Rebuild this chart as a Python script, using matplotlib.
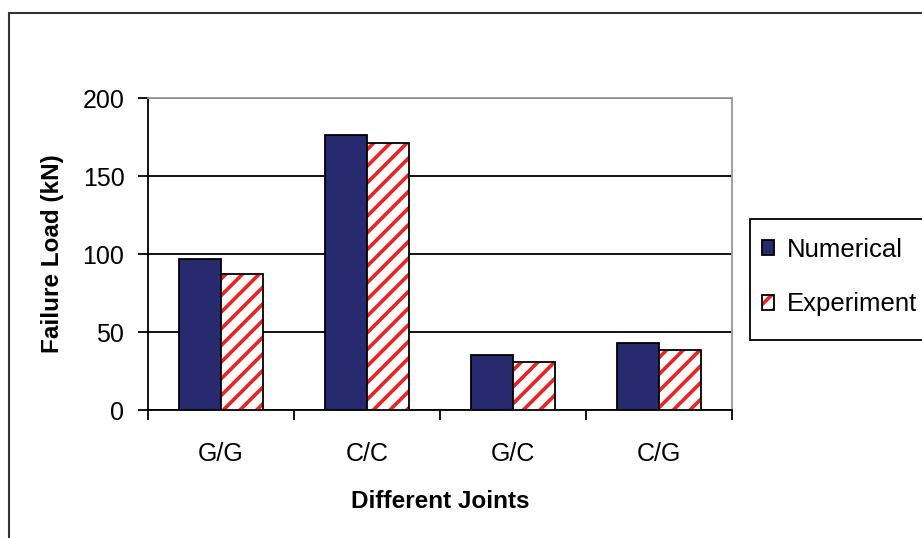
import matplotlib
matplotlib.use("Agg")
import matplotlib.pyplot as plt
import numpy as np
from matplotlib.patches import Patch, Rectangle
from matplotlib.legend_handler import HandlerTuple

plt.rcParams['font.family'] = ['Liberation Sans', 'DejaVu Sans']
plt.rcParams['hatch.linewidth'] = 2.6

joints = ["G/G", "C/C", "G/C", "C/G"]
numerical = [97, 176, 35, 43]
experiment = [87, 171, 31, 38.5]
y_ticks = [0, 50, 100, 150, 200]

navy = "#282a70"
red = "#ee2222"
W, H = 922, 538

fig = plt.figure(figsize=(W / 100, H / 100), dpi=100)
ax = fig.add_axes([148 / W, 1 - 410 / H, (732 - 148) / W, (410 - 98) / H])

x = np.arange(len(joints))
bw = 0.29

ax.bar(x - bw / 2, numerical, width=bw, color=navy, edgecolor="black",
       linewidth=1.3, zorder=3)
# hatched fill in red, then a black outline on top
ax.bar(x + bw / 2, experiment, width=bw, color="white", edgecolor=red,
       hatch="//", linewidth=0, zorder=3)
ax.bar(x + bw / 2, experiment, width=bw, fill=False, edgecolor="black",
       linewidth=1.3, zorder=4)

ax.set_xlim(-0.5, len(joints) - 0.5)
ax.set_ylim(0, 200)
ax.set_yticks(y_ticks)
ax.yaxis.grid(True, color="black", linewidth=1.3, zorder=1)
ax.set_axisbelow(True)

ax.set_xticks(np.arange(len(joints) + 1) - 0.5)
ax.set_xticklabels([])
ax.set_xticks(x, minor=True)
ax.set_xticklabels(joints, minor=True)
ax.tick_params(axis="x", which="major", direction="out", length=7, width=1.3)
ax.tick_params(axis="x", which="minor", length=0, pad=23, labelsize=18)
ax.tick_params(axis="y", direction="out", length=7, width=1.3, pad=10,
               labelsize=18)

for side in ("top", "right"):
    ax.spines[side].set_color("#999999")
    ax.spines[side].set_linewidth(1.3)
for side in ("left", "bottom"):
    ax.spines[side].set_color("black")
    ax.spines[side].set_linewidth(1.3)

ax.set_xlabel("Different Joints", fontsize=17.5, fontweight="bold", va="center")
ax.xaxis.set_label_coords(0.5, (410 - 502) / 312)
ax.set_ylabel("Failure Load (kN)", fontsize=17.5, fontweight="bold", va="center")
ax.yaxis.set_label_coords((52 - 148) / 584, 0.5)

# legend box, running past the right edge of the figure
fig.add_artist(Rectangle((750 / W, 1 - 340 / H), 0.3, (340 - 219) / H,
                         transform=fig.transFigure, facecolor="white",
                         edgecolor="black", linewidth=1.3))

h_num = Patch(facecolor=navy, edgecolor="black", linewidth=1.3)
h_exp = (Patch(facecolor="white", edgecolor=red, hatch="//", linewidth=0),
         Patch(fill=False, edgecolor="black", linewidth=1.3))
leg = fig.legend([h_num, h_exp], ["Numerical", "Experiment"],
                 handler_map={tuple: HandlerTuple(ndivide=1, pad=0)},
                 loc="upper left", bbox_to_anchor=(750 / W, 1 - 226 / H),
                 borderaxespad=0, fontsize=18.5, handlelength=0.5,
                 handleheight=0.5, handletextpad=0.5, labelspacing=1.2,
                 borderpad=0.45, frameon=False)

fig.add_artist(Rectangle((9 / W, -0.2), 1.2, 1 - 13 / H + 0.2,
                         transform=fig.transFigure, fill=False,
                         edgecolor="#333333", linewidth=1.5))

fig.savefig("out.png", dpi=100)
